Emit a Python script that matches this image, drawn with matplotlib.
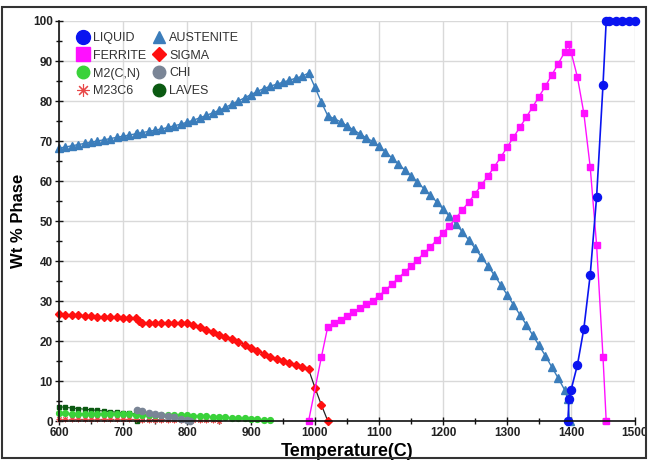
import matplotlib
matplotlib.use('agg')
import matplotlib.pyplot as plt
from matplotlib.lines import Line2D
from matplotlib.patches import Rectangle
import numpy as np

# temperatures (C) and wt % of each phase
aus_t = [600, 610, 620, 630, 640, 650, 660, 670, 680, 690, 700, 710, 720, 722, 730, 740, 750, 760, 770, 780,
         790, 800, 810, 820, 830, 840, 850, 860, 870, 880, 890, 900, 910, 920, 930, 940, 950, 960, 970, 980,
         990, 1000, 1010, 1020, 1030, 1040, 1050, 1060, 1070, 1080, 1090, 1100, 1110, 1120, 1130, 1140,
         1150, 1160, 1170, 1180, 1190, 1200, 1210, 1220, 1230, 1240, 1250, 1260, 1270, 1280, 1290, 1300,
         1310, 1320, 1330, 1340, 1350, 1360, 1370, 1380, 1390, 1395, 1398]
aus_v = [68.2, 68.5, 68.8, 69.1, 69.4, 69.7, 70.0, 70.3, 70.6, 70.9, 71.2, 71.5, 71.8, 71.9, 72.1, 72.4, 72.7,
         73.0, 73.4, 73.8, 74.2, 74.7, 75.2, 75.8, 76.4, 77.0, 77.7, 78.4, 79.2, 80.0, 80.8, 81.6, 82.4, 83.1,
         83.7, 84.2, 84.7, 85.2, 85.7, 86.2, 87.0, 83.4, 79.7, 76.3, 75.6, 74.8, 73.8, 72.8, 71.8, 70.8,
         69.9, 68.7, 67.3, 65.8, 64.3, 62.8, 61.3, 59.7, 58.1, 56.5, 54.8, 53.0, 51.2, 49.3, 47.3, 45.3,
         43.2, 41.0, 38.8, 36.5, 34.1, 31.6, 29.1, 26.6, 24.1, 21.5, 18.9, 16.3, 13.5, 10.7, 7.8, 5.5, 0.0]

fer_t = [990, 1010, 1020, 1030, 1040, 1050, 1060, 1070, 1080, 1090, 1100, 1110, 1120, 1130, 1140, 1150,
         1160, 1170, 1180, 1190, 1200, 1210, 1220, 1230, 1240, 1250, 1260, 1270, 1280, 1290, 1300, 1310,
         1320, 1330, 1340, 1350, 1360, 1370, 1380, 1390, 1395, 1400, 1410, 1420, 1430, 1440, 1450, 1455]
fer_v = [0.0, 16.0, 23.6, 24.4, 25.2, 26.2, 27.2, 28.2, 29.2, 30.1, 31.3, 32.7, 34.2, 35.7, 37.2, 38.7,
         40.3, 41.9, 43.5, 45.2, 47.0, 48.8, 50.7, 52.7, 54.7, 56.8, 59.0, 61.2, 63.5, 65.9, 68.4, 70.9,
         73.4, 75.9, 78.5, 81.1, 83.7, 86.5, 89.3, 92.2, 94.2, 92.3, 86.0, 77.0, 63.5, 44.0, 16.0, 0.0]

liq_t = [1395, 1397, 1400, 1410, 1420, 1430, 1440, 1450, 1455, 1460, 1470, 1480, 1490, 1500]
liq_v = [0.0, 5.5, 7.7, 14.0, 23.0, 36.5, 56.0, 84.0, 100, 100, 100, 100, 100, 100]

sig_t = [600, 610, 620, 630, 640, 650, 660, 670, 680, 690, 700, 710, 720, 725, 730, 740, 750, 760, 770,
         780, 790, 800, 810, 820, 830, 840, 850, 860, 870, 880, 890, 900, 910, 920, 930, 940, 950, 960,
         970, 980, 990, 1000, 1010, 1020]
sig_v = [26.7, 26.6, 26.5, 26.4, 26.3, 26.2, 26.1, 26.0, 26.0, 25.9, 25.8, 25.8, 25.7, 24.9, 24.6, 24.6,
         24.5, 24.5, 24.5, 24.5, 24.5, 24.4, 24.0, 23.4, 22.8, 22.2, 21.6, 21.0, 20.4, 19.8, 19.1, 18.3,
         17.5, 16.8, 16.1, 15.6, 15.1, 14.6, 14.1, 13.6, 12.9, 8.3, 4.0, 0.0]

m2_t = [600, 610, 620, 630, 640, 650, 660, 670, 680, 690, 700, 710, 720, 730, 740, 750, 760, 770, 780,
        790, 800, 810, 820, 830, 840, 850, 860, 870, 880, 890, 900, 910, 920, 930]
m2_v = [1.9, 1.9, 1.85, 1.85, 1.8, 1.8, 1.75, 1.75, 1.7, 1.7, 1.65, 1.65, 1.6, 1.55, 1.55, 1.5, 1.5, 1.45,
        1.45, 1.4, 1.4, 1.3, 1.25, 1.2, 1.1, 1.0, 0.9, 0.85, 0.75, 0.65, 0.55, 0.45, 0.35, 0.2]

m23_t = [600, 610, 620, 630, 640, 650, 660, 670, 680, 690, 700, 710, 720, 730, 740, 750, 760, 770, 780,
         790, 800, 810, 820, 830, 840, 850]
m23_v = [0.4, 0.4, 0.4, 0.4, 0.4, 0.4, 0.4, 0.4, 0.4, 0.4, 0.4, 0.4, 0.4, 0.35, 0.35, 0.35, 0.3, 0.3, 0.3,
         0.3, 0.25, 0.25, 0.2, 0.2, 0.15, 0.1]

chi_t = [722, 730, 740, 750, 760, 770, 780, 790, 800, 805]
chi_v = [2.7, 2.4, 2.1, 1.8, 1.5, 1.2, 0.9, 0.6, 0.3, 0.0]

lav_t = [600, 610, 620, 630, 640, 650, 660, 670, 680, 690, 700, 710, 720, 722]
lav_v = [3.6, 3.4, 3.25, 3.1, 2.95, 2.8, 2.65, 2.5, 2.35, 2.2, 2.05, 1.9, 1.75, 0.0]

c_liq = '#0a14f0'
c_fer = '#ff10ff'
c_aus = '#3b7dbb'
c_sig = '#ff1010'
c_m2 = '#3ad23a'
c_m23 = '#e84848'
c_chi = '#7a8596'
c_lav = '#0b5a12'

fig = plt.figure(figsize=(6.48, 4.61), dpi=100)
ax = fig.add_axes([59 / 648, 1 - 421 / 461, 576 / 648, 400 / 461])

ax.plot(lav_t, lav_v, '-', color=c_lav, lw=0.8, marker='s', ms=3.5, mec=c_lav, clip_on=False)
ax.plot(m23_t, m23_v, '--', color='#444444', lw=0.7, marker=(8, 2, 0), ms=4, mec=c_m23, mew=0.7,
        clip_on=False)
ax.plot(m2_t, m2_v, '-', color=c_m2, lw=0.8, marker='o', ms=4.2, mec=c_m2, clip_on=False)
ax.plot(chi_t, chi_v, '-', color=c_chi, lw=0.8, marker='o', ms=4.5, mec=c_chi, clip_on=False)
ax.plot(sig_t, sig_v, '-', color='#222222', lw=0.9, marker='D', ms=4.3, mfc=c_sig, mec=c_sig,
        clip_on=False)
ax.plot(aus_t, aus_v, '-', color=c_aus, lw=1.0, marker='^', ms=5.8, mec=c_aus, clip_on=False)
ax.plot(fer_t, fer_v, '-', color=c_fer, lw=1.0, marker='s', ms=4.8, mec=c_fer, clip_on=False)
ax.plot(liq_t, liq_v, '-', color=c_liq, lw=1.2, marker='o', ms=5.8, mec=c_liq, clip_on=False)

ax.set_xlim(600, 1500)
ax.set_ylim(0, 100)
ax.set_xticks(np.arange(600, 1501, 100))
ax.set_xticks(np.arange(600, 1501, 50), minor=True)
ax.set_yticks(np.arange(0, 101, 10))
ax.set_yticks(np.arange(0, 101, 5), minor=True)
ax.grid(True, which='major', color='#d9d9d9', lw=1)
ax.set_axisbelow(True)
for s in ['top', 'right']:
    ax.spines[s].set_visible(False)
for s in ['left', 'bottom']:
    ax.spines[s].set_color('#111111')
    ax.spines[s].set_linewidth(1.2)
ax.tick_params(which='major', direction='inout', length=6, width=1, color='#111111',
               labelsize=8.5, labelcolor='#222222', pad=1.5)
ax.tick_params(which='minor', direction='inout', length=5, width=1, color='#111111')
for lab in ax.get_xticklabels() + ax.get_yticklabels():
    lab.set_fontweight('bold')
    lab.set_family('Liberation Sans')

ax.set_xlabel('Temperature(C)', fontsize=13, fontweight='bold', family='Liberation Sans', labelpad=3)
ax.set_ylabel('Wt % Phase', fontsize=12, fontweight='bold', family='Liberation Sans', labelpad=5)

handles = [
    Line2D([], [], ls='none', marker='o', ms=10, color=c_liq),
    Line2D([], [], ls='none', marker='s', ms=10, color=c_fer),
    Line2D([], [], ls='none', marker='o', ms=9, color=c_m2),
    Line2D([], [], ls='none', marker=(8, 2, 0), ms=9, color=c_m23, mew=0.8),
    Line2D([], [], ls='none', marker='^', ms=9, color=c_aus),
    Line2D([], [], ls='none', marker='D', ms=7, color=c_sig),
    Line2D([], [], ls='none', marker='o', ms=9, color=c_chi),
    Line2D([], [], ls='none', marker='o', ms=9, color=c_lav),
]
labels = ['LIQUID', 'FERRITE', 'M2(C,N)', 'M23C6', 'AUSTENITE', 'SIGMA', 'CHI', 'LAVES']
leg = ax.legend(handles, labels, ncol=2, loc='upper left', bbox_to_anchor=(70 / 648, 1 - 26 / 461),
                bbox_transform=fig.transFigure, frameon=False, borderpad=0, handlelength=1.0,
                handletextpad=0.3, columnspacing=0.6, labelspacing=0.45,
                prop={'family': 'Liberation Sans', 'size': 9})
for t in leg.get_texts():
    t.set_color('#333333')

fig.patches.append(Rectangle((2 / 648, 3 / 461), 644 / 648, 451 / 461, transform=fig.transFigure,
                             fill=False, ec='#333333', lw=1.5))

fig.savefig('out.png', dpi=100)
